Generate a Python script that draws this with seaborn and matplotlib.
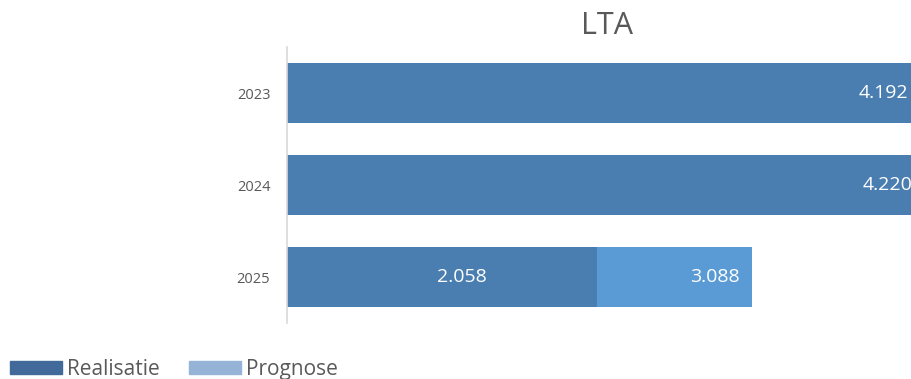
import matplotlib
matplotlib.use("Agg")
import matplotlib.pyplot as plt
from matplotlib.patches import Patch
import pandas as pd
import seaborn as sns

# chart data
years = ["2023", "2024", "2025"]
realisatie = [4.192, 4.220, 2.058]
totaal = [4.192, 4.220, 3.088]   # realisatie + prognose
label_real = ["4.192", "4.220", "2.058"]
label_totaal = ["", "", "3.088"]

df = pd.DataFrame({"jaar": years, "realisatie": realisatie, "totaal": totaal})

c_real = "#4a7eb0"
c_prog = "#5b9bd5"
c_real_leg = "#41699a"
c_prog_leg = "#95b3d7"
grey = "#595959"

sns.set_style("white")
plt.rcParams["font.family"] = ["Open Sans", "DejaVu Sans"]

fig = plt.figure(figsize=(9.12, 3.79), dpi=100)
ax = fig.add_axes([287 / 912, 1 - 323 / 379, 1 - 287 / 912, (323 - 47) / 379])

sns.barplot(data=df, x="totaal", y="jaar", color=c_prog, width=0.66,
            saturation=1, orient="h", linewidth=0, ax=ax)
sns.barplot(data=df, x="realisatie", y="jaar", color=c_real, width=0.66,
            saturation=1, orient="h", linewidth=0, ax=ax)

ax.set_xlim(0, 4.15)
ax.set_ylim(2.5, -0.5)

# data labels
for i, (r, t) in enumerate(zip(realisatie, totaal)):
    if t > r:
        ax.annotate(label_real[i], xy=(r / 2, i), xytext=(14, 0),
                    textcoords="offset points", ha="center", va="center",
                    color="white", fontsize=14, annotation_clip=False)
        ax.annotate(label_totaal[i], xy=(t, i), xytext=(-9, 0),
                    textcoords="offset points", ha="right", va="center",
                    color="white", fontsize=14, annotation_clip=False)
    else:
        ax.annotate(label_real[i], xy=(r, i), xytext=(-7, 0),
                    textcoords="offset points", ha="right", va="center",
                    color="white", fontsize=14, annotation_clip=False)

ax.set_xlabel("")
ax.set_ylabel("")
ax.set_xticks([])
ax.tick_params(axis="y", length=0, labelsize=10.5, labelcolor=grey, pad=12)
for s in ["top", "right", "bottom"]:
    ax.spines[s].set_visible(False)
ax.spines["left"].set_color("#d9d9d9")
ax.spines["left"].set_linewidth(1.2)

fig.text(607 / 912, 1 - 26 / 379, "LTA", ha="center", va="center",
         fontsize=22, color=grey)

handles = [Patch(color=c_real_leg, label="Realisatie"),
           Patch(color=c_prog_leg, label="Prognose")]
fig.legend(handles=handles, loc="lower left", bbox_to_anchor=(-0.003, -0.035),
           ncol=2, frameon=False, fontsize=15, labelcolor=grey,
           handlelength=2.5, handleheight=0.55, handletextpad=0.25,
           columnspacing=1.4, borderaxespad=0.2)

fig.savefig("out.png", dpi=100)
